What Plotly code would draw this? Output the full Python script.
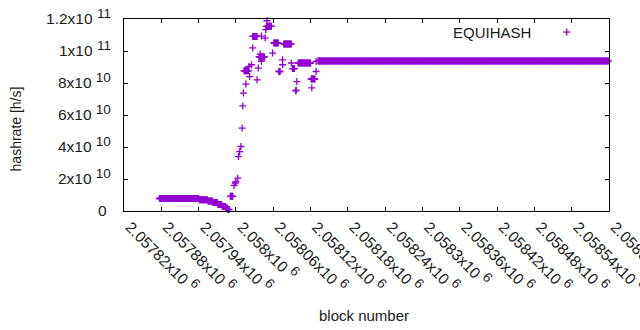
import plotly.graph_objects as go

PURPLE = "#9400D3"

# Constant runs of consecutive blocks: first block, last block, hashrate [h/s]
run_first = [2057877, 2057941, 2057955, 2057963, 2057971, 2057978, 2057984, 2057987,
             2057991, 2058013, 2058027, 2058037, 2058049, 2058061, 2058069, 2058077,
             2058091, 2058100, 2058121, 2058132]
run_last = [2057940, 2057954, 2057962, 2057970, 2057977, 2057983, 2057986, 2057989,
            2057995, 2058020, 2058034, 2058046, 2058057, 2058068, 2058071, 2058089,
            2058094, 2058120, 2058127, 2058599]
run_value = [7.8e9, 7.0e9, 6.3e9, 5.3e9, 4.1e9, 2.8e9, 1.8e9, 0.9e9,
             9.2e9, 8.76e10, 1.091e11, 9.63e10, 1.154e11, 1.05e11, 8.72e10, 1.044e11,
             8.9e10, 9.25e10, 8.25e10, 9.37e10]

# Isolated blocks
pt_block = [2057997, 2057999, 2058000, 2058003, 2058004, 2058006, 2058008, 2058010,
            2058011, 2058012, 2058016, 2058021, 2058022, 2058025, 2058027, 2058034,
            2058036, 2058039, 2058041, 2058041, 2058047, 2058048, 2058050, 2058059,
            2058075, 2058075, 2058089, 2058096, 2058097, 2058098, 2058122, 2058129,
            2058129]
pt_value = [1.6e10, 1.75e10, 1.83e10, 2.05e10, 3.4e10, 3.71e10, 4.03e10, 5.18e10,
            6.57e10, 7.37e10, 7.93e10, 9.03e10, 8.4e10, 9.14e10, 1.019e11, 8.2e10,
            8.93e10, 9.81e10, 1.093e11, 9.35e10, 1.081e11, 1.133e11, 1.189e11, 9.87e10,
            9.45e10, 9.14e10, 9.25e10, 7.51e10, 7.55e10, 8.09e10, 7.7e10, 8.72e10,
            9.35e10]

x_tick_vals = [2057820, 2057880, 2057940, 2058000, 2058060, 2058120, 2058180,
               2058240, 2058300, 2058360, 2058420, 2058480, 2058540, 2058600]
x_tick_mant = ["2.05782", "2.05788", "2.05794", "2.058", "2.05806", "2.05812", "2.05818",
               "2.05824", "2.0583", "2.05836", "2.05842", "2.05848", "2.05854", "2.0586"]
x_tick_exp = ["6"] * 14
y_tick_vals = [0, 2e10, 4e10, 6e10, 8e10, 1e11, 1.2e11]
y_tick_mant = ["0", "2", "4", "6", "8", "1", "1.2"]
y_tick_exp = ["", "10", "10", "10", "10", "11", "11"]


def sci(m, e):
    if not e:
        return m + "\u00a0"
    return m + "x10\u00a0<sup><span style='font-size:13.5px'>" + e + "</span></sup>"


x_tick_text = [sci(m, e) for m, e in zip(x_tick_mant, x_tick_exp)]
y_tick_text = [sci(m, e) for m, e in zip(y_tick_mant, y_tick_exp)]

blocks = []
values = []
for f, l, v in zip(run_first, run_last, run_value):
    for b in range(f, l + 1):
        blocks.append(b)
        values.append(v)
blocks += pt_block
values += pt_value

FONT = "Liberation Sans, Arial, sans-serif"
TXT = "#1a1a1a"

fig = go.Figure()
fig.add_trace(go.Scatter(
    x=blocks, y=values, mode="markers", name="EQUIHASH",
    marker=dict(symbol="cross-thin", size=5, color=PURPLE,
                line=dict(width=1.3, color=PURPLE)),
    cliponaxis=False, showlegend=False,
))

axis_common = dict(showline=True, linecolor="black", linewidth=1, mirror="ticks",
                   ticks="inside", ticklen=4, tickcolor="black", showgrid=False,
                   zeroline=False, automargin=False, ticklabeloverflow="allow",
                   tickfont=dict(family=FONT, size=15.5, color=TXT))

fig.update_layout(
    width=640, height=330,
    margin=dict(l=124, r=31, t=19, b=119, autoexpand=False),
    paper_bgcolor="white", plot_bgcolor="white",
    font=dict(family=FONT, size=15, color=TXT),
    xaxis=dict(range=[2057820, 2058600], tickvals=x_tick_vals, ticktext=x_tick_text,
               tickangle=45, ticklabelshift=6, **axis_common),
    yaxis=dict(range=[0, 1.2e11], tickvals=y_tick_vals, ticktext=y_tick_text,
               ticklabelstandoff=9, **axis_common),
    annotations=[
        dict(text="hashrate [h/s]", xref="paper", yref="paper", x=-0.2227, y=0.43,
             xanchor="center", yanchor="middle", textangle=-90, showarrow=False,
             font=dict(family=FONT, size=14, color=TXT)),
        dict(text="block number", xref="paper", yref="paper", x=0.495, y=-0.5417,
             xanchor="center", yanchor="middle", showarrow=False,
             font=dict(family=FONT, size=15, color=TXT)),
        dict(text="EQUIHASH", xref="paper", yref="paper", x=0.8427, y=0.932,
             xanchor="right", yanchor="middle", showarrow=False,
             font=dict(family=FONT, size=15, color=TXT)),
    ],
    shapes=[
        dict(type="line", xref="paper", yref="paper", xsizemode="pixel", ysizemode="pixel",
             xanchor=0.9128, yanchor=0.932, x0=-3.5, x1=3.5, y0=0, y1=0,
             line=dict(color=PURPLE, width=1.3)),
        dict(type="line", xref="paper", yref="paper", xsizemode="pixel", ysizemode="pixel",
             xanchor=0.9128, yanchor=0.932, x0=0, x1=0, y0=-3.5, y1=3.5,
             line=dict(color=PURPLE, width=1.3)),
    ],
)

fig.write_html("out.html", config={"displayModeBar": False},
               post_script="document.body.style.margin='0';")
